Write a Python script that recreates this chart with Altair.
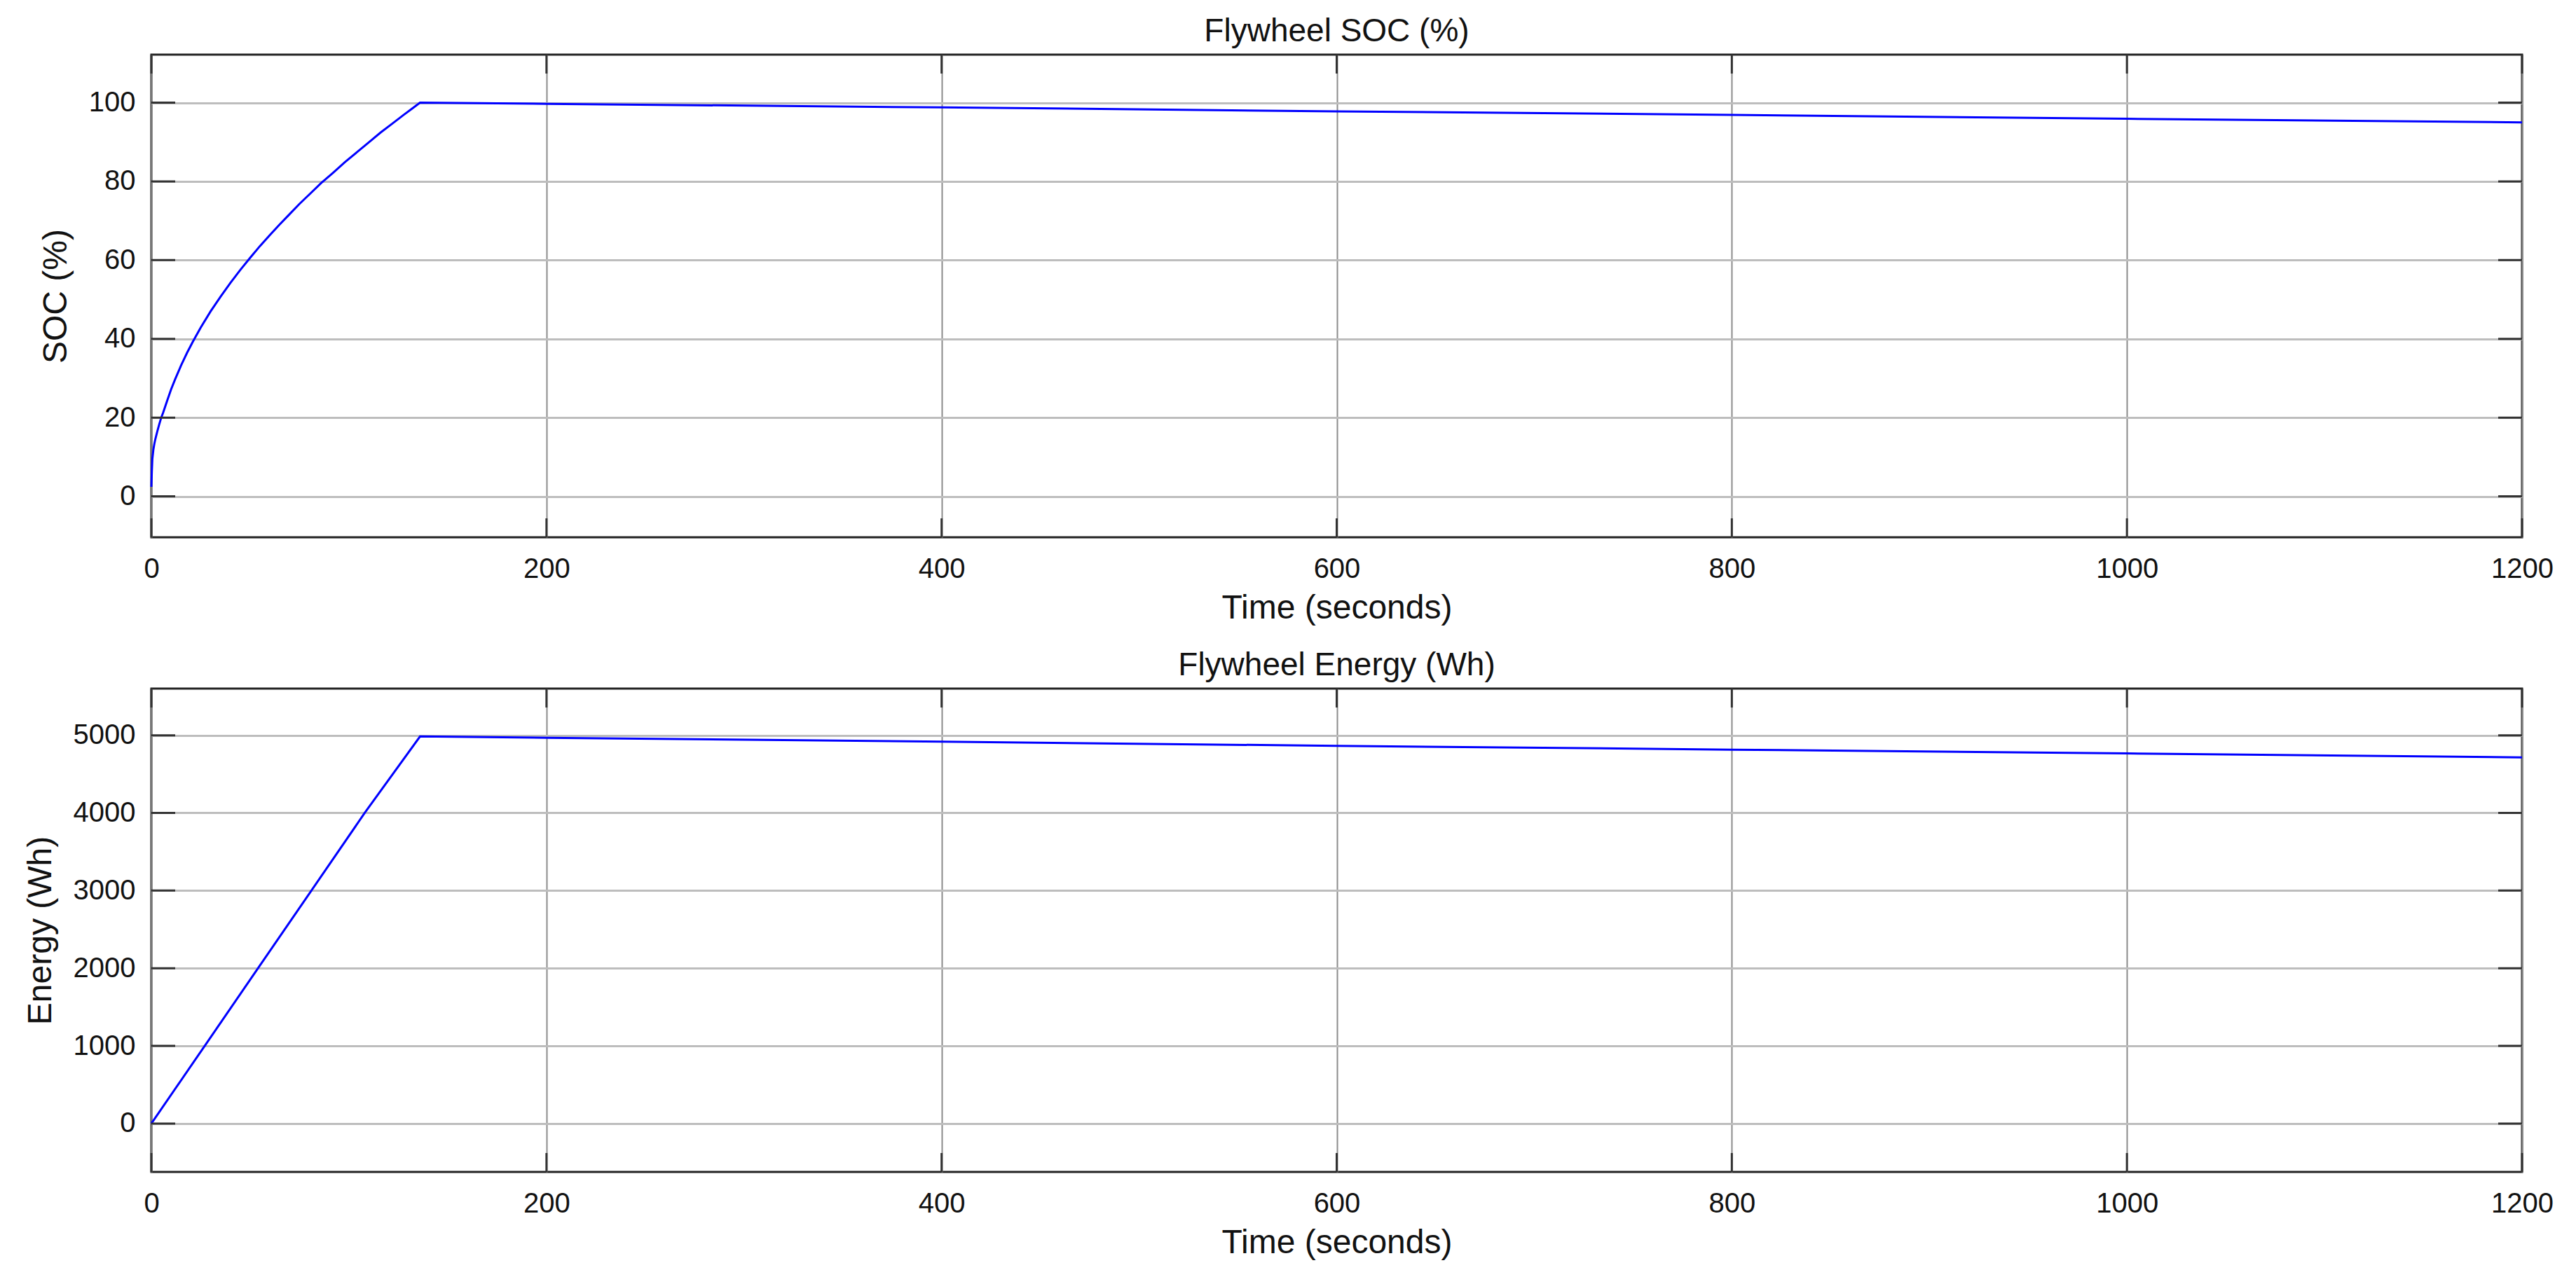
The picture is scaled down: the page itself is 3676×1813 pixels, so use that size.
import altair as alt
import pandas as pd

# values
soc_time = [0, 0.25, 0.5, 1, 1.5, 2, 3, 4, 5, 6, 8, 10, 12, 15, 18, 21, 25, 30, 35, 40, 45, 50,
            55, 60, 65, 70, 75, 80, 86, 92, 98, 104, 110, 116, 122, 128, 132, 136,
            200, 400, 600, 800, 1000, 1200]
soc_values = [2.4, 6.5, 9.5, 11.8, 13.3, 14.5, 16.5, 18.3, 20, 21.3, 24.3, 27.2, 29.7, 33.2, 36.4,
              39.3, 42.9, 47, 50.7, 54.2, 57.5, 60.6, 63.6, 66.4, 69.1, 71.7, 74.3, 76.7, 79.6,
              82.2, 84.9, 87.4, 89.9, 92.4, 94.7, 97, 98.5, 100,
              99.7, 98.8, 97.8, 96.9, 95.9, 95.0]

energy_time = [0, 27, 54, 81, 108, 136, 200, 400, 600, 800, 1000, 1200]
energy_values = [0, 1000, 2000, 3000, 4000, 4985, 4968, 4917, 4864, 4815, 4766, 4715]

time_ticks = [0, 200, 400, 600, 800, 1000, 1200]
soc_ticks = [0, 20, 40, 60, 80, 100]
energy_ticks = [0, 1000, 2000, 3000, 4000, 5000]

FONT = "Liberation Sans"
W = 3383


def panel(time, values, ticks, domain, title, ytitle, height):
    line_df = pd.DataFrame({"t": time, "v": values})
    ytick_df = pd.DataFrame({"v": ticks})
    xtick_df = pd.DataFrame({"t": time_ticks})

    x = alt.X("t:Q", scale=alt.Scale(domain=[0, 1200], nice=False, zero=False),
              axis=alt.Axis(values=time_ticks, title="Time (seconds)", format="d", grid=True,
                            gridColor="#8c8c8c", gridWidth=2, domain=False, ticks=False,
                            labelFlush=False, labelOverlap=False, labelPadding=25,
                            titlePadding=12))
    y = alt.Y("v:Q", scale=alt.Scale(domain=domain, nice=False, zero=False),
              axis=alt.Axis(values=ticks, title=ytitle, format="d", grid=True,
                            gridColor="#bdbdbd", gridWidth=3, domain=False, ticks=False,
                            labelPadding=23, titlePadding=22))

    line = alt.Chart(line_df).mark_line(color="#0000ff", strokeWidth=3).encode(x=x, y=y)

    # inward tick marks on all four sides, like the original box
    tick_color = "#333333"
    left = alt.Chart(ytick_df).mark_rule(color=tick_color, strokeWidth=3).encode(
        y="v:Q", x=alt.value(0), x2=alt.value(34))
    right = alt.Chart(ytick_df).mark_rule(color=tick_color, strokeWidth=3).encode(
        y="v:Q", x=alt.value(W - 34), x2=alt.value(W))
    top = alt.Chart(xtick_df).mark_rule(color=tick_color, strokeWidth=3).encode(
        x="t:Q", y=alt.value(0), y2=alt.value(27))
    bottom = alt.Chart(xtick_df).mark_rule(color=tick_color, strokeWidth=3).encode(
        x="t:Q", y=alt.value(height - 27), y2=alt.value(height))

    return alt.layer(line, left, right, top, bottom).properties(
        width=W, height=height,
        title=alt.TitleParams(title, fontSize=46, font=FONT, fontWeight="normal",
                              color="#111111", offset=8),
    )


soc_chart = panel(soc_time, soc_values, soc_ticks, [-10.4, 112.2],
                  "Flywheel SOC (%)", "SOC (%)", 689)
energy_chart = panel(energy_time, energy_values, energy_ticks, [-623, 5601],
                     "Flywheel Energy (Wh)", "Energy (Wh)", 690)

chart = alt.vconcat(soc_chart, energy_chart, spacing=31).properties(
    padding={"left": 24, "top": 12, "right": 5, "bottom": 3}
).configure_view(
    stroke="#222222", strokeWidth=3
).configure_axis(
    labelFont=FONT, labelFontSize=40, labelColor="#111111",
    titleFont=FONT, titleFontSize=48, titleFontWeight="normal", titleColor="#111111"
)

chart.save("out.html", embed_options={"renderer": "svg", "actions": False})
